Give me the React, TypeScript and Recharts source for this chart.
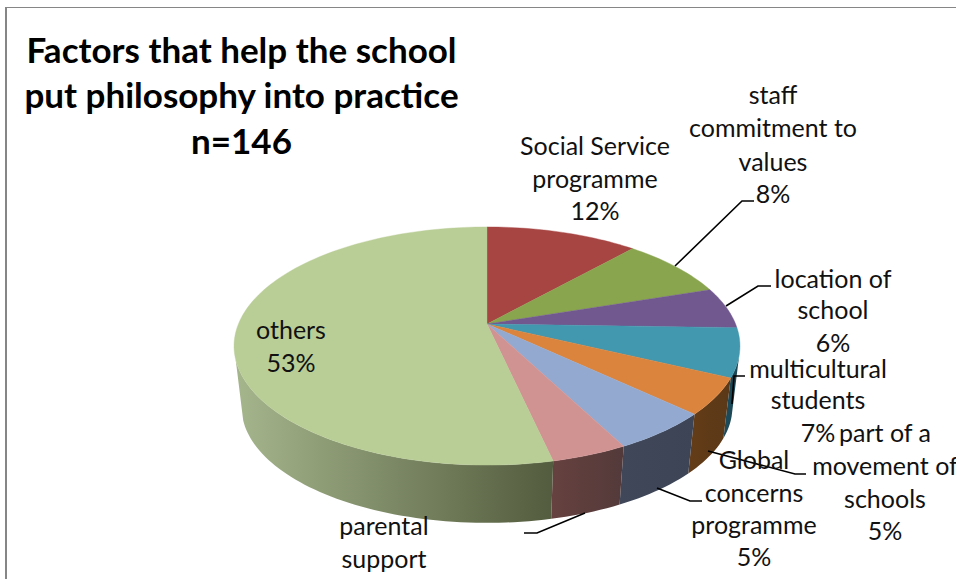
import React from "react";
import { PieChart, Pie } from "recharts";

const categories = [
  "Social Service programme",
  "staff commitment to values",
  "location of school",
  "multicultural students",
  "part of a movement of schools",
  "Global concerns programme",
  "parental support",
  "others",
];
const shares = [11.6, 8.3, 5.6, 6.6, 4.9, 5.4, 4.1, 53.5];
const percentLabels = ["12%", "8%", "6%", "7%", "5%", "5%", "4%", "53%"];
const topColors = ["#a74543", "#89a54e", "#71588f", "#4198af", "#db843d", "#93a9cf", "#d19392", "#b9cd96"];
const wallFrom = ["#5c2a2a", "#4c5c2a", "#3e3050", "#1d4c5c", "#643c18", "#3f4759", "#66413f", "#a5b58c"];
const wallTo = ["#5c2a2a", "#4c5c2a", "#3e3050", "#1c4552", "#5a3817", "#3c4456", "#533a3a", "#535c3e"];
const titleLines = ["Factors that help the school", "put philosophy into practice", "n=146"];

const chartData = categories.map((name, i) => ({ name, value: shares[i] }));

const labelLayout = [
  { x: 595, y: [155, 188, 220], lines: ["Social Service", "programme"], leader: null },
  { x: 773, y: [104, 137, 171, 203], lines: ["staff", "commitment to", "values"], leader: "675,266 742,201 754,201" },
  { x: 833, y: [288, 319, 352], lines: ["location of", "school"], leader: "726,306 758,286 771,286" },
  { x: 818, y: [378, 409, 442], lines: ["multicultural", "students"], leader: "732,404 734,376 745,376" },
  { x: 885, y: [442, 475, 508, 540], lines: ["part of a", "movement of", "schools"], leader: "708,451 795,474 806,474" },
  { x: 754, y: [469, 502, 534, 566], lines: ["Global", "concerns", "programme"], leader: "657,488 690,501 702,501" },
  { x: 384, y: [535, 568, 600], lines: ["parental", "support"], leader: "585,513 537,533 524,533" },
  { x: 291, y: [339, 372], lines: ["others"], leader: null },
];

const FONT = "Lato, 'Open Sans', sans-serif";
const CX = 487;
const CY = 324;
const RX = 248.6;
const RY = 115;
const TILT = 0.185;
const WALL_DROP = 62;
const WALL_SCALE = 0.97;
const WALL_START = 105;
const WALL_END = 253;

// clock = degrees clockwise from 12 o'clock
const project = (clock: number, drop = 0, scale = 1) => {
  const r = (clock * Math.PI) / 180;
  const u = Math.sin(r);
  const v = -Math.cos(r);
  const w = 1 - TILT * v;
  return [CX + (scale * RX * u) / w, CY + drop + (scale * RY * v) / w];
};

const arc = (from: number, to: number, drop = 0, scale = 1) => {
  const n = Math.max(2, Math.ceil(Math.abs(to - from) / 1.5));
  const pts: number[][] = [];
  for (let i = 0; i <= n; i++) pts.push(project(from + ((to - from) * i) / n, drop, scale));
  return pts;
};

const toPath = (pts: number[][]) =>
  pts.map((p, i) => `${i ? "L" : "M"}${p[0].toFixed(2)} ${p[1].toFixed(2)}`).join(" ") + " Z";

const TopSlice = (props: any) => {
  const a = 90 - props.startAngle;
  const b = 90 - props.endAngle;
  const i = props.index ?? 0;
  return <path d={toPath([[CX, CY], ...arc(a, b)])} fill={topColors[i]} stroke={topColors[i]} strokeWidth={0.4} />;
};

const WallSlice = (props: any) => {
  const a = Math.max(90 - props.startAngle, WALL_START);
  const b = Math.min(90 - props.endAngle, WALL_END);
  const i = props.index ?? 0;
  if (b <= a) return <g />;
  const top = arc(a, b);
  const bottom = arc(b, a, WALL_DROP, WALL_SCALE);
  const all = [...top, ...bottom];
  const xs = all.map((p) => p[0]);
  const left = Math.min(...xs);
  const right = Math.max(...xs);
  const id = `wall-${i}`;
  return (
    <g>
      <defs>
        <linearGradient id={id} gradientUnits="userSpaceOnUse" x1={left} x2={right} y1={0} y2={0}>
          <stop offset="0" stopColor={wallFrom[i]} />
          <stop offset="1" stopColor={wallTo[i]} />
        </linearGradient>
      </defs>
      <path d={toPath(all)} fill={`url(#${id})`} />
    </g>
  );
};

const SliceLabel = (props: any) => {
  const i = props.index ?? 0;
  const item = labelLayout[i];
  const texts = [...item.lines, percentLabels[i]];
  return (
    <g>
      {item.leader && <polyline points={item.leader} fill="none" stroke="#000" strokeWidth={1.6} />}
      {texts.map((t, k) => (
        <text key={k} x={item.x} y={item.y[k]} textAnchor="middle" fontFamily={FONT} fontSize={25} fill="#111">
          {t}
        </text>
      ))}
    </g>
  );
};

export default function App() {
  return (
    <div style={{ position: "absolute", left: 0, top: 0, width: 956, height: 579, overflow: "hidden", background: "#fff" }}>
      <div style={{ position: "absolute", left: 5, top: 7, right: -4, bottom: -4, borderLeft: "2px solid #868686", borderTop: "1px solid #868686" }} />
      <PieChart width={956} height={579} style={{ position: "absolute", left: 0, top: 0 }} margin={{ top: 0, right: 0, bottom: 0, left: 0 }}>
        <Pie
          data={chartData}
          dataKey="value"
          nameKey="name"
          cx={CX}
          cy={CY}
          outerRadius={RX}
          startAngle={90}
          endAngle={-270}
          stroke="none"
          isAnimationActive={false}
          labelLine={false}
          shape={WallSlice}
        />
        <Pie
          data={chartData}
          dataKey="value"
          nameKey="name"
          cx={CX}
          cy={CY}
          outerRadius={RX}
          startAngle={90}
          endAngle={-270}
          stroke="none"
          isAnimationActive={false}
          labelLine={false}
          label={SliceLabel}
          shape={TopSlice}
        />
        {titleLines.map((t, i) => (
          <text key={t} x={241.5} y={[63, 108, 154][i]} textAnchor="middle" fontFamily={FONT} fontWeight={700} fontSize={35} fill="#000">
            {t}
          </text>
        ))}
      </PieChart>
    </div>
  );
}
